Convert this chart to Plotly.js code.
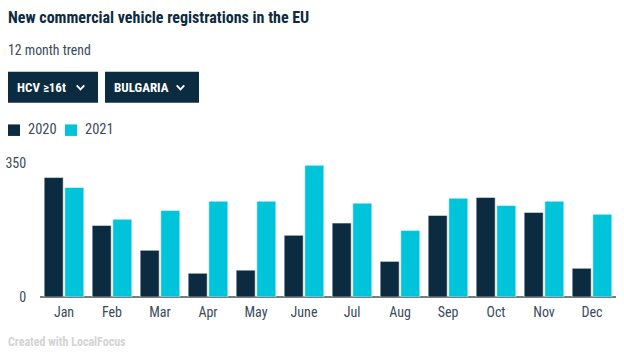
<!DOCTYPE html>
<html>
<head>
<meta charset="utf-8">
<script src="https://cdn.plot.ly/plotly-3.0.1.min.js"></script>
<style>
html,body{margin:0;padding:0;background:#fff;}
#chart{width:624px;height:363px;}
</style>
</head>
<body>
<div id="chart"></div>
<script>
const months = ["Jan","Feb","Mar","Apr","May","June","Jul","Aug","Sep","Oct","Nov","Dec"];
const values2020 = [312,187,122,62,70,161,193,93,213,260,221,75];
const values2021 = [286,203,226,250,250,344,245,174,258,239,250,216];
const seriesNames = ["2020","2021"];
const yTicks = [0,350];

const FONT = "Roboto Condensed, Liberation Sans Narrow, DejaVu Sans Condensed, Roboto, sans-serif";
const navy = "#0b2c40";
const cyan = "#00c4d9";
const colors = [navy, cyan];

const traces = [
  {type:"bar", name:seriesNames[0], x:months, y:values2020,
   marker:{color:colors[0], line:{color:"#ffffff", width:0.5}}, hoverinfo:"x+y"},
  {type:"bar", name:seriesNames[1], x:months, y:values2021,
   marker:{color:colors[1], line:{color:"#ffffff", width:0.5}}, hoverinfo:"x+y"}
];

const X = v => (v-40)/576, Y = v => (296.7-v)/133.7;

const layout = {
  width:624, height:363,
  margin:{l:40, r:8, t:163, b:66.3},
  paper_bgcolor:"#ffffff", plot_bgcolor:"#ffffff",
  font:{family:FONT, color:"#3b4b5a", size:13},
  barmode:"group", bargap:0.14, bargroupgap:0.08,
  showlegend:false,
  title:{text:"<b>New commercial vehicle registrations in the EU</b>", x:8/624, xanchor:"left",
    xref:"container", y:1-17/363, yref:"container", yanchor:"middle",
    font:{family:FONT, size:16, color:"#0d2b3e"}},
  xaxis:{type:"category", showgrid:false, zeroline:false, showline:false,
    ticks:"outside", ticklen:2, tickcolor:"rgba(0,0,0,0)",
    tickfont:{size:14, color:"#3b4b5a"}, fixedrange:true},
  yaxis:{range:[0,350], tickvals:yTicks, ticktext:yTicks.map(String), showgrid:true,
    gridcolor:"#e9e9e9", gridwidth:2, zeroline:true, zerolinecolor:"#7a7a7a", zerolinewidth:2,
    showline:false, ticks:"outside", ticklen:10, tickcolor:"rgba(0,0,0,0)",
    tickfont:{size:14, color:"#3b4b5a"}, fixedrange:true},
  shapes:[
    {type:"rect", xref:"paper", yref:"paper", x0:X(8), x1:X(98), y0:Y(72), y1:Y(103),
     fillcolor:navy, line:{width:0}, layer:"above"},
    {type:"rect", xref:"paper", yref:"paper", x0:X(105), x1:X(199), y0:Y(72), y1:Y(103),
     fillcolor:navy, line:{width:0}, layer:"above"}
  ],
  annotations:[
    {text:"12 month trend", xref:"paper", yref:"paper", x:X(6), y:Y(50),
     xanchor:"left", yanchor:"middle", showarrow:false, font:{size:13.8, color:"#3b4b5a"}},
    {text:"<b>HCV ≥16t</b>", xref:"paper", yref:"paper", x:X(15), y:Y(87.5),
     xanchor:"left", yanchor:"middle", showarrow:false, font:{size:13, color:"#ffffff"}},
    {text:"<b>BULGARIA</b>", xref:"paper", yref:"paper", x:X(112), y:Y(87.5),
     xanchor:"left", yanchor:"middle", showarrow:false, font:{size:13, color:"#ffffff"}},
    {text:"<b>Created with LocalFocus</b>", xref:"paper", yref:"paper", x:X(6), y:Y(342),
     xanchor:"left", yanchor:"middle", showarrow:false, font:{size:12, color:"#d3d3d3"}}
  ]
};

// legend: swatches + labels built from series names/colors
const legendX = [8, 65];
seriesNames.forEach((name, i) => {
  layout.shapes.push({type:"rect", xref:"paper", yref:"paper",
    x0:X(legendX[i]), x1:X(legendX[i]+12), y0:Y(124.5), y1:Y(136),
    fillcolor:colors[i], line:{width:0}});
  layout.annotations.push({text:name, xref:"paper", yref:"paper", x:X(legendX[i]+18), y:Y(130),
    xanchor:"left", yanchor:"middle", showarrow:false, font:{size:14.5, color:"#3b4b5a"}});
});

function chev(px, py){
  const w=3.8, h=2;
  return {type:"path", xref:"paper", yref:"paper", layer:"above",
    path:`M${X(px-w)},${Y(py-h)} L${X(px)},${Y(py+h)} L${X(px+w)},${Y(py-h)}`,
    line:{color:"#ffffff", width:1.8}};
}
layout.shapes.push(chev(80.5, 87.5), chev(180.5, 87.5));

Plotly.newPlot("chart", traces, layout, {displayModeBar:false});
</script>
</body>
</html>
